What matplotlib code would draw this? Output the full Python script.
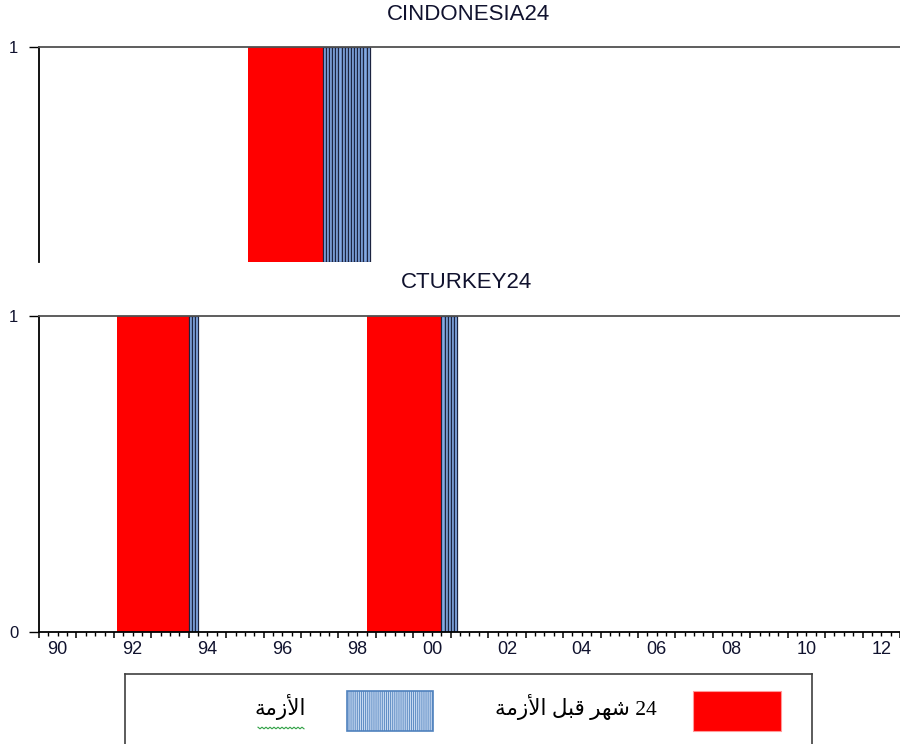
import numpy as np
import pandas as pd
import matplotlib
matplotlib.use('Agg')
import matplotlib.pyplot as plt
from matplotlib.patches import Rectangle

# monthly sample
months = pd.period_range('1990-01', '2012-12', freq='M')

# (start, end) months of the 24-month pre-crisis window and of the crisis itself
indonesia_pre = [('1995-08', '1997-07')]
indonesia_crisis = [('1997-08', '1998-10')]
turkey_pre = [('1992-02', '1993-12'), ('1998-10', '2000-09')]
turkey_crisis = [('1994-01', '1994-03'), ('2000-10', '2001-02')]

label_years = [1990, 1992, 1994, 1996, 1998, 2000, 2002, 2004, 2006, 2008, 2010, 2012]
year_labels = ['90', '92', '94', '96', '98', '00', '02', '04', '06', '08', '10', '12']

# legend text, already in visual (shaped, left-to-right) order
label_pre = '\uFE94\uFEE3\uFEAF\uFEF7\uFE8D \uFEDE\uFE92\uFED7 \uFEAE\uFEEC\uFEB7 24'
label_crisis = '\uFE94\uFEE3\uFEAF\uFEF7\uFE8D'

RED = '#ff0000'
BLUE = '#84a9e4'
DARK = '#1c2440'
TXT = '#10122e'

plt.rcParams['font.family'] = ['Liberation Sans', 'DejaVu Sans']

x = np.array([p.year + (p.month - 1) / 12 for p in months])


def dummy(spans):
    d = np.zeros(len(months))
    for start, end in spans:
        mask = (months >= pd.Period(start, 'M')) & (months <= pd.Period(end, 'M'))
        d[mask] = 1
    return d


def draw_panel(ax, pre, crisis):
    pre_d = dummy(pre)
    cri_d = dummy(crisis)
    on = pre_d == 1
    ax.bar(x[on], pre_d[on], width=1 / 12, align='edge', color=RED,
           linewidth=0, antialiased=False)
    on = cri_d == 1
    ax.bar(x[on], cri_d[on], width=1 / 12, align='edge', color=BLUE,
           edgecolor=DARK, linewidth=0.9)
    ax.set_xlim(1990, 2013)
    ax.spines['right'].set_visible(False)
    ax.spines['left'].set_linewidth(1.3)
    ax.spines['top'].set_linewidth(1.3)
    ax.spines['top'].set_color('#505050')
    ax.tick_params(axis='y', direction='out', length=7, width=1,
                   pad=8, labelsize=12, labelcolor=TXT)


fig = plt.figure(figsize=(9, 7.44), dpi=100)

# top panel (cut off below)
ax1 = fig.add_axes([39 / 900, (744 - 262) / 744, 861 / 900, 215 / 744])
draw_panel(ax1, indonesia_pre, indonesia_crisis)
ax1.set_ylim(0, 1)
ax1.set_yticks([1])
ax1.set_yticklabels(['1'])
ax1.spines['bottom'].set_visible(False)
ax1.set_xticks([])
fig.text(469 / 900, 1 - 14 / 744, 'CINDONESIA24', ha='center', va='center',
         fontsize=16, color=TXT)

# bottom panel
ax2 = fig.add_axes([39 / 900, (744 - 632) / 744, 861 / 900, 316 / 744])
draw_panel(ax2, turkey_pre, turkey_crisis)
ax2.set_ylim(0, 1)
ax2.set_yticks([0, 1])
ax2.set_yticklabels(['0', '1'])
ax2.spines['bottom'].set_linewidth(1.3)
ax2.set_xticks(np.arange(1990, 2014))
ax2.set_xticks(np.arange(1990, 2013, 0.25), minor=True)
ax2.set_xticklabels([])
ax2.tick_params(axis='x', which='major', direction='out', length=4.5, width=1.1)
ax2.tick_params(axis='x', which='minor', direction='out', length=3, width=1)
for yr, lab in zip(label_years, year_labels):
    ax2.text(yr + 0.5, -18 / 316, lab, transform=ax2.get_xaxis_transform(),
             ha='center', va='center', fontsize=13, color=TXT)
fig.text(467 / 900, 1 - 282 / 744, 'CTURKEY24', ha='center', va='center',
         fontsize=16, color=TXT)

# legend box, laid out in pixel units
lg = fig.add_axes([125 / 900, (744 - 770) / 744, 687 / 900, 96 / 744])
lg.set_xlim(125, 812)
lg.set_ylim(770, 674)
lg.set_xticks([])
lg.set_yticks([])
lg.spines['bottom'].set_visible(False)
for s in ['left', 'right', 'top']:
    lg.spines[s].set_color('#404040')
    lg.spines[s].set_linewidth(1.2)

lg.add_patch(Rectangle((693, 691), 88, 40, facecolor=RED, edgecolor='#ff9a9a',
                       linewidth=0.8))
plt.rcParams['hatch.linewidth'] = 0.6
lg.add_patch(Rectangle((347, 691), 86, 40, facecolor='#c6d9f1', edgecolor='#4f81bd',
                       hatch='|' * 8, linewidth=1.2))
lg.text(657, 707, label_pre, ha='right', va='center', fontsize=15.5,
        family=['Liberation Serif', 'DejaVu Sans'], color='black')
lg.text(306, 707, label_crisis, ha='right', va='center', fontsize=15.5,
        family=['DejaVu Sans'], color='black')

# spell-check squiggle under the crisis label
sx = np.arange(258, 306, 2.0)
sy = 728 + np.where(np.arange(len(sx)) % 2 == 0, -0.8, 0.8)
lg.plot(sx, sy, color='#2ea043', linewidth=0.8)

fig.savefig('out.png', dpi=100)
